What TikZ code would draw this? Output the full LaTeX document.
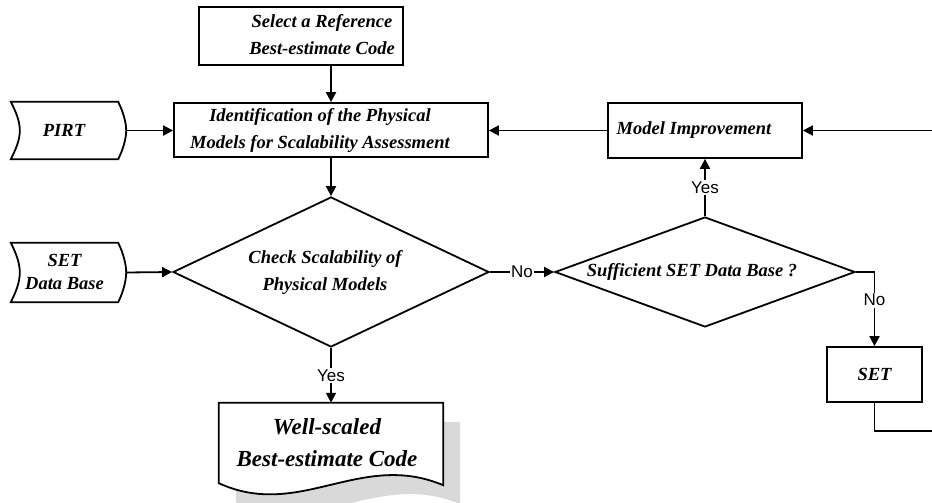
\documentclass[tikz,border=0pt]{standalone}
\usepackage{fontspec}
\setmainfont{Liberation Serif}
\setsansfont{Liberation Sans}
\usetikzlibrary{arrows.meta,shapes.geometric,backgrounds}

\definecolor{shadowgray}{RGB}{217,217,217}

% move the text of a node sideways by half of #1, without changing the node size
\newcommand\shifted[2]{\makebox[0pt]{\hspace*{#1}#2}}

% stored-data outline round a (borderless) node
\newcommand\storedoutline[1]{%
  \draw[outline] (#1.north west) -- ([xshift=-8pt]#1.north east)
    .. controls ([xshift=-3pt,yshift=-10pt]#1.north east) and ([yshift=8pt]#1.east) .. (#1.east)
    .. controls ([yshift=-8pt]#1.east) and ([xshift=-3pt,yshift=10pt]#1.south east) .. ([xshift=-8pt]#1.south east)
    -- (#1.south west)
    .. controls ([xshift=5pt,yshift=10pt]#1.south west) and ([xshift=9pt,yshift=-10pt]#1.west) .. ([xshift=9pt]#1.west)
    .. controls ([xshift=9pt,yshift=10pt]#1.west) and ([xshift=5pt,yshift=-10pt]#1.north west) .. (#1.north west) -- cycle;}

% document outline (wavy bottom) round a (borderless) node
\newcommand\docoutline[2]{%
  \path[#2] (#1.north west) -- (#1.north east) -- (#1.south east)
    .. controls ([xshift=-83pt,yshift=35pt]#1.south east) and ([xshift=81pt,yshift=-35pt]#1.south west) .. ([yshift=2pt]#1.south west) -- cycle;}

\tikzset{
  boxfont/.style={font=\fontsize{18.5}{27}\selectfont\bfseries\itshape},
  outline/.style={line width=1.8pt, line join=miter},
  box/.style={boxfont, draw, outline, rectangle, inner sep=0pt, align=center},
  decision/.style={boxfont, draw, outline, diamond, inner sep=0pt, align=center},
  plainbox/.style={boxfont, rectangle, inner sep=0pt, align=center},
  arrow/.style={line width=1.8pt, -{Triangle[length=10pt,width=10pt]}},
  answer/.style={font=\sffamily\fontsize{17}{19}\selectfont, fill=white, inner sep=1.5pt},
}

\begin{document}
\begin{tikzpicture}[x=1pt, y=-1pt]
  \useasboundingbox (0,0) rectangle (932,503);
  \clip (0,0) rectangle (932,503);

  % process boxes
  \node[box, minimum width=204pt, minimum height=58pt] (sel) at (301,36)
    {\shifted{42pt}{\begin{tabular}{c}Select a Reference\\Best-estimate Code\end{tabular}}};
  \node[box, minimum width=314pt, minimum height=54pt] (ident) at (331,130)
    {\shifted{-22pt}{\begin{tabular}{c}Identification of the Physical\\Models for Scalability Assessment\end{tabular}}};
  \node[box, minimum width=194pt, minimum height=55pt] (model) at (705,130.5)
    {\shifted{-22pt}{Model Improvement}};
  \node[box, minimum width=95pt, minimum height=55pt] (setbox) at (874.5,374.5)
    {SET};

  % decisions
  \node[decision, minimum width=316pt, minimum height=150pt] (d1) at (331,272)
    {\shifted{-12pt}{\begin{tabular}{c}Check Scalability of\\Physical Models\end{tabular}}};
  \node[decision, minimum width=300pt, minimum height=110pt] (d2) at (705,272)
    {\shifted{-26pt}{Sufficient SET Data Base ?}};

  % stored data inputs
  \node[plainbox, minimum width=115pt, minimum height=57pt] (pirt) at (68.5,130.5)
    {\shifted{-9pt}{PIRT}};
  \storedoutline{pirt}
  \node[plainbox, minimum width=115pt, minimum height=59pt] (setdb) at (68.5,272.5)
    {\shifted{-8pt}{\begin{tabular}{c}SET\\[-4pt]Data Base\end{tabular}}};
  \storedoutline{setdb}

  % result document with shadow
  \node[rectangle, inner sep=0pt, minimum width=224pt, minimum height=82pt,
        font=\fontsize{23}{32}\selectfont\bfseries\itshape] (doc) at (331,444)
    {\shifted{-8pt}{\raisebox{8pt}{\begin{tabular}{c}Well-scaled\\Best-estimate Code\end{tabular}}}};
  \begin{scope}[on background layer]
    \docoutline{doc}{fill=shadowgray, transform canvas={xshift=17pt, yshift=-19pt}}
    \docoutline{doc}{fill=white, draw, outline}
  \end{scope}

  % connectors
  \draw[arrow] (sel.south -| ident.north) -- (ident.north);
  \draw[arrow] (ident.south) -- (d1.north);
  \draw[arrow] (pirt.east) -- (pirt.east -| ident.west);
  \draw[arrow] (setdb.east) -- (d1.west);
  \draw[arrow] (d1.east) -- node[answer] {No} (d2.west);
  \draw[arrow] (d2.north) -- node[answer] {Yes} (d2.north |- model.south);
  \draw[arrow] (model.west) -- (model.west -| ident.east);
  \draw[arrow] (d2.east) -| node[answer, pos=0.69] {No} (setbox.north);
  \draw[arrow] (d1.south) -- node[answer] {Yes} (d1.south |- doc.north);
  \coordinate (loop) at (950,431);
  \draw[arrow] (setbox.south) |- (loop) |- (model.east);
\end{tikzpicture}
\end{document}
